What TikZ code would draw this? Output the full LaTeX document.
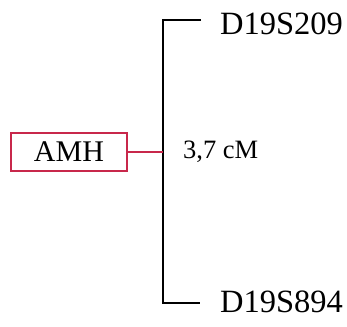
\documentclass[tikz,border=0pt]{standalone}
\usepackage{fontspec}
\setmainfont{Liberation Serif}
\definecolor{boxred}{RGB}{200,40,75}
\tikzset{
  ln/.style={line width=1.6pt, black},
  lbl/.style={inner sep=0pt, anchor=west, font=\fontsize{32.5}{32}\selectfont},
}
\begin{document}
\begin{tikzpicture}[x=1pt,y=-1pt]
\useasboundingbox (0,0) rectangle (347,326);
\node[draw=boxred, line width=1.4pt, minimum width=116pt, minimum height=38pt, inner sep=0pt, font=\fontsize{30}{30}\selectfont] (amh) at (69,152) {AMH};
\coordinate (top) at (163,20);
\coordinate (bot) at (163,303);
\coordinate (mid) at (163,152);
\coordinate (topend) at (201,20);
\coordinate (botend) at (200,303);
\draw[ln] (topend) -- (top) -- (bot) -- (botend);
\draw[boxred, line width=1.4pt] (amh.east) -- (mid);
\node[lbl] (d1) at (220,24) {D19S209};
\node[lbl] (d2) at (220,302) {D19S894};
\node[inner sep=0pt, anchor=west, font=\fontsize{26.5}{26}\selectfont] (cm) at (183,152) {3,7 cM};
\end{tikzpicture}
\end{document}
